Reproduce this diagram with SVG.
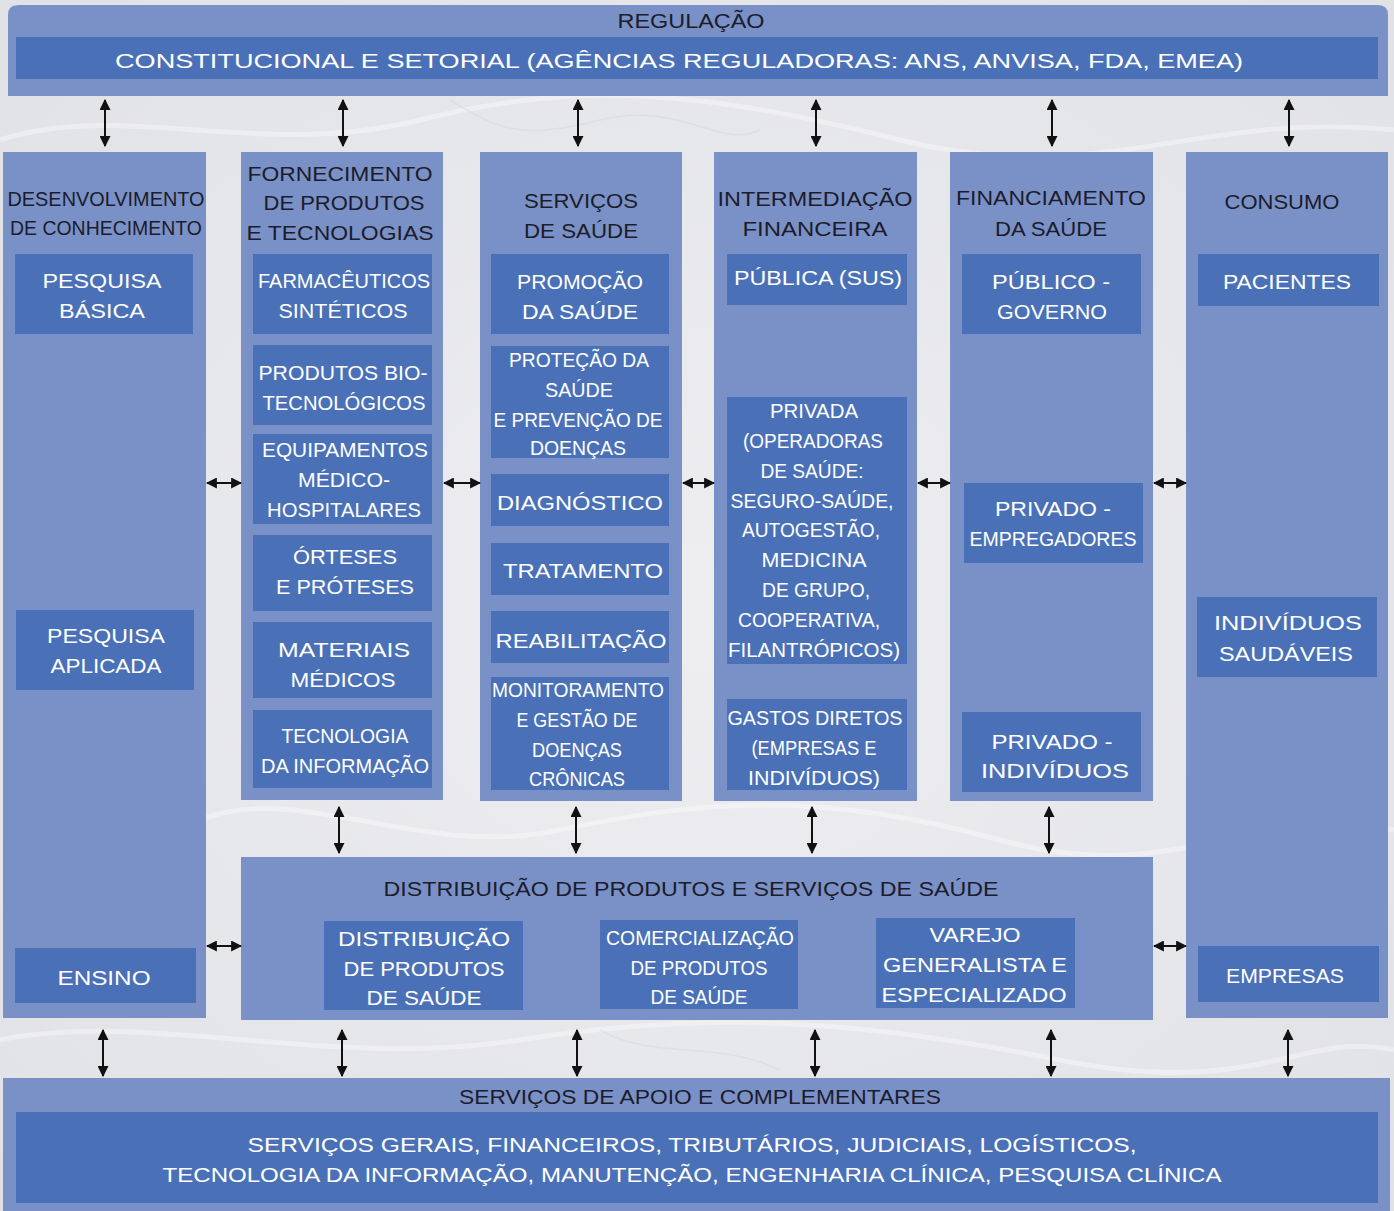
<svg xmlns="http://www.w3.org/2000/svg" width="1394" height="1211" viewBox="0 0 1394 1211">
<defs>
<style>
.panel{fill:#7a91c8}
.box{fill:#4a71b7}
.tt{font-family:"Liberation Sans",Arial,sans-serif;font-size:21px;fill:#1c1c2a;text-anchor:middle}
.wt{font-family:"Liberation Sans",Arial,sans-serif;font-size:21px;fill:#ffffff;text-anchor:middle}
.conn{stroke:#111;stroke-width:2;fill:none;marker-start:url(#ah);marker-end:url(#ah)}
.marble{fill:none;stroke:#ffffff;stroke-opacity:0.35;stroke-width:5}
.marble2{fill:none;stroke:#c9cad0;stroke-opacity:0.3;stroke-width:1.5}
</style>
<radialGradient id="bg" cx="50%" cy="50%" r="75%">
<stop offset="0" stop-color="#eeeef1"/>
<stop offset="1" stop-color="#e0e1e5"/>
</radialGradient>
<marker id="ah" viewBox="0 0 10 10" refX="9" refY="5" markerWidth="11" markerHeight="11" markerUnits="userSpaceOnUse" orient="auto-start-reverse">
<path d="M0,0 L10,5 L0,10 z" fill="#111"/>
</marker>
</defs>

<g id="background">
<rect x="0" y="0" width="1394" height="1211" fill="url(#bg)"/>
<path class="marble" d="M0,140 C120,100 260,160 420,120 S700,90 900,140 S1200,110 1394,130"/>
<path class="marble" d="M200,820 C300,780 420,860 560,830 S820,790 1000,840 S1250,800 1394,830"/>
<path class="marble" d="M0,1040 C150,1010 330,1070 520,1040 S860,1020 1060,1060 S1300,1030 1394,1050"/>
<path class="marble2" d="M450,100 C500,130 520,140 600,120 S720,150 760,130"/>
<path class="marble2" d="M600,1030 C650,1060 720,1040 780,1070"/>
</g>

<g id="regulacao">
<path class="panel" d="M18,5 H1378 Q1388,5 1388,15 V96 H8 V15 Q8,5 18,5 Z"/>
<text class="tt" x="691" y="28" textLength="147" lengthAdjust="spacingAndGlyphs">REGULAÇÃO</text>
<g id="constitucional">
<rect class="box" x="16" y="37" width="1362" height="42"/>
<text class="wt" x="679" y="68" textLength="1128" lengthAdjust="spacingAndGlyphs">CONSTITUCIONAL E SETORIAL (AGÊNCIAS REGULADORAS: ANS, ANVISA, FDA, EMEA)</text>
</g>
</g>

<g id="desenvolvimento">
<rect class="panel" x="3" y="152" width="203" height="866"/>
<text class="tt" x="106" y="206" textLength="197" lengthAdjust="spacingAndGlyphs">DESENVOLVIMENTO</text>
<text class="tt" x="106" y="235" textLength="192" lengthAdjust="spacingAndGlyphs">DE CONHECIMENTO</text>
<g id="pesquisa-basica">
<rect class="box" x="15" y="254" width="178" height="80"/>
<text class="wt" x="102" y="288" textLength="119" lengthAdjust="spacingAndGlyphs">PESQUISA</text>
<text class="wt" x="102" y="318" textLength="86" lengthAdjust="spacingAndGlyphs">BÁSICA</text>
</g>
<g id="pesquisa-aplicada">
<rect class="box" x="16" y="610" width="178" height="80"/>
<text class="wt" x="106" y="643" textLength="118" lengthAdjust="spacingAndGlyphs">PESQUISA</text>
<text class="wt" x="106" y="673" textLength="111" lengthAdjust="spacingAndGlyphs">APLICADA</text>
</g>
<g id="ensino">
<rect class="box" x="15" y="948" width="181" height="55"/>
<text class="wt" x="104" y="985" textLength="93" lengthAdjust="spacingAndGlyphs">ENSINO</text>
</g>
</g>

<g id="fornecimento">
<rect class="panel" x="241" y="152" width="202" height="648"/>
<text class="tt" x="340" y="181" textLength="185" lengthAdjust="spacingAndGlyphs">FORNECIMENTO</text>
<text class="tt" x="344" y="210" textLength="161" lengthAdjust="spacingAndGlyphs">DE PRODUTOS</text>
<text class="tt" x="340" y="240" textLength="187" lengthAdjust="spacingAndGlyphs">E TECNOLOGIAS</text>
<g id="farmaceuticos">
<rect class="box" x="253" y="254" width="179" height="80"/>
<text class="wt" x="344" y="288" textLength="172" lengthAdjust="spacingAndGlyphs">FARMACÊUTICOS</text>
<text class="wt" x="343" y="318" textLength="129" lengthAdjust="spacingAndGlyphs">SINTÉTICOS</text>
</g>
<g id="biotecnologicos">
<rect class="box" x="253" y="345" width="179" height="80"/>
<text class="wt" x="343" y="380" textLength="169" lengthAdjust="spacingAndGlyphs">PRODUTOS BIO-</text>
<text class="wt" x="344" y="410" textLength="163" lengthAdjust="spacingAndGlyphs">TECNOLÓGICOS</text>
</g>
<g id="equipamentos">
<rect class="box" x="253" y="434" width="179" height="90"/>
<text class="wt" x="345" y="457" textLength="166" lengthAdjust="spacingAndGlyphs">EQUIPAMENTOS</text>
<text class="wt" x="344" y="487" textLength="92" lengthAdjust="spacingAndGlyphs">MÉDICO-</text>
<text class="wt" x="344" y="517" textLength="154" lengthAdjust="spacingAndGlyphs">HOSPITALARES</text>
</g>
<g id="orteses">
<rect class="box" x="253" y="535" width="179" height="76"/>
<text class="wt" x="345" y="564" textLength="104" lengthAdjust="spacingAndGlyphs">ÓRTESES</text>
<text class="wt" x="345" y="594" textLength="138" lengthAdjust="spacingAndGlyphs">E PRÓTESES</text>
</g>
<g id="materiais">
<rect class="box" x="253" y="622" width="179" height="76"/>
<text class="wt" x="344" y="657" textLength="132" lengthAdjust="spacingAndGlyphs">MATERIAIS</text>
<text class="wt" x="343" y="687" textLength="105" lengthAdjust="spacingAndGlyphs">MÉDICOS</text>
</g>
<g id="ti-fornecimento">
<rect class="box" x="253" y="710" width="179" height="78"/>
<text class="wt" x="345" y="743" textLength="127" lengthAdjust="spacingAndGlyphs">TECNOLOGIA</text>
<text class="wt" x="345" y="773" textLength="168" lengthAdjust="spacingAndGlyphs">DA INFORMAÇÃO</text>
</g>
</g>

<g id="servicos">
<rect class="panel" x="480" y="152" width="202" height="649"/>
<text class="tt" x="581" y="208" textLength="114" lengthAdjust="spacingAndGlyphs">SERVIÇOS</text>
<text class="tt" x="581" y="238" textLength="114" lengthAdjust="spacingAndGlyphs">DE SAÚDE</text>
<g id="promocao">
<rect class="box" x="491" y="254" width="178" height="80"/>
<text class="wt" x="580" y="289" textLength="126" lengthAdjust="spacingAndGlyphs">PROMOÇÃO</text>
<text class="wt" x="580" y="319" textLength="116" lengthAdjust="spacingAndGlyphs">DA SAÚDE</text>
</g>
<g id="protecao">
<rect class="box" x="491" y="346" width="178" height="112"/>
<text class="wt" x="579" y="367" textLength="140" lengthAdjust="spacingAndGlyphs">PROTEÇÃO DA</text>
<text class="wt" x="579" y="397" textLength="68" lengthAdjust="spacingAndGlyphs">SAÚDE</text>
<text class="wt" x="578" y="427" textLength="169" lengthAdjust="spacingAndGlyphs">E PREVENÇÃO DE</text>
<text class="wt" x="578" y="455" textLength="96" lengthAdjust="spacingAndGlyphs">DOENÇAS</text>
</g>
<g id="diagnostico">
<rect class="box" x="491" y="474" width="178" height="52"/>
<text class="wt" x="580" y="510" textLength="166" lengthAdjust="spacingAndGlyphs">DIAGNÓSTICO</text>
</g>
<g id="tratamento">
<rect class="box" x="491" y="543" width="178" height="52"/>
<text class="wt" x="583" y="578" textLength="160" lengthAdjust="spacingAndGlyphs">TRATAMENTO</text>
</g>
<g id="reabilitacao">
<rect class="box" x="491" y="611" width="178" height="52"/>
<text class="wt" x="581" y="648" textLength="171" lengthAdjust="spacingAndGlyphs">REABILITAÇÃO</text>
</g>
<g id="monitoramento">
<rect class="box" x="491" y="677" width="178" height="113"/>
<text class="wt" x="578" y="697" textLength="172" lengthAdjust="spacingAndGlyphs">MONITORAMENTO</text>
<text class="wt" x="577" y="727" textLength="121" lengthAdjust="spacingAndGlyphs">E GESTÃO DE</text>
<text class="wt" x="577" y="757" textLength="90" lengthAdjust="spacingAndGlyphs">DOENÇAS</text>
<text class="wt" x="577" y="786" textLength="96" lengthAdjust="spacingAndGlyphs">CRÔNICAS</text>
</g>
</g>

<g id="intermediacao">
<rect class="panel" x="714" y="152" width="203" height="649"/>
<text class="tt" x="815" y="206" textLength="195" lengthAdjust="spacingAndGlyphs">INTERMEDIAÇÃO</text>
<text class="tt" x="815" y="236" textLength="145" lengthAdjust="spacingAndGlyphs">FINANCEIRA</text>
<g id="publica-sus">
<rect class="box" x="727" y="254" width="180" height="51"/>
<text class="wt" x="818" y="285" textLength="168" lengthAdjust="spacingAndGlyphs">PÚBLICA (SUS)</text>
</g>
<g id="privada">
<rect class="box" x="727" y="397" width="180" height="267"/>
<text class="wt" x="814" y="418" textLength="88" lengthAdjust="spacingAndGlyphs">PRIVADA</text>
<text class="wt" x="813" y="448" textLength="140" lengthAdjust="spacingAndGlyphs">(OPERADORAS</text>
<text class="wt" x="812" y="478" textLength="103" lengthAdjust="spacingAndGlyphs">DE SAÚDE:</text>
<text class="wt" x="812" y="508" textLength="163" lengthAdjust="spacingAndGlyphs">SEGURO-SAÚDE,</text>
<text class="wt" x="811" y="537" textLength="138" lengthAdjust="spacingAndGlyphs">AUTOGESTÃO,</text>
<text class="wt" x="814" y="567" textLength="105" lengthAdjust="spacingAndGlyphs">MEDICINA</text>
<text class="wt" x="816" y="597" textLength="108" lengthAdjust="spacingAndGlyphs">DE GRUPO,</text>
<text class="wt" x="809" y="627" textLength="142" lengthAdjust="spacingAndGlyphs">COOPERATIVA,</text>
<text class="wt" x="814" y="657" textLength="172" lengthAdjust="spacingAndGlyphs">FILANTRÓPICOS)</text>
</g>
<g id="gastos-diretos">
<rect class="box" x="727" y="699" width="180" height="91"/>
<text class="wt" x="815" y="725" textLength="175" lengthAdjust="spacingAndGlyphs">GASTOS DIRETOS</text>
<text class="wt" x="814" y="755" textLength="125" lengthAdjust="spacingAndGlyphs">(EMPRESAS E</text>
<text class="wt" x="814" y="785" textLength="132" lengthAdjust="spacingAndGlyphs">INDIVÍDUOS)</text>
</g>
</g>

<g id="financiamento">
<rect class="panel" x="950" y="152" width="203" height="649"/>
<text class="tt" x="1051" y="205" textLength="190" lengthAdjust="spacingAndGlyphs">FINANCIAMENTO</text>
<text class="tt" x="1051" y="236" textLength="112" lengthAdjust="spacingAndGlyphs">DA SAÚDE</text>
<g id="publico-governo">
<rect class="box" x="962" y="254" width="179" height="80"/>
<text class="wt" x="1051" y="289" textLength="118" lengthAdjust="spacingAndGlyphs">PÚBLICO -</text>
<text class="wt" x="1052" y="319" textLength="110" lengthAdjust="spacingAndGlyphs">GOVERNO</text>
</g>
<g id="privado-empregadores">
<rect class="box" x="964" y="483" width="179" height="80"/>
<text class="wt" x="1053" y="516" textLength="116" lengthAdjust="spacingAndGlyphs">PRIVADO -</text>
<text class="wt" x="1053" y="546" textLength="167" lengthAdjust="spacingAndGlyphs">EMPREGADORES</text>
</g>
<g id="privado-individuos">
<rect class="box" x="962" y="712" width="179" height="80"/>
<text class="wt" x="1052" y="749" textLength="121" lengthAdjust="spacingAndGlyphs">PRIVADO -</text>
<text class="wt" x="1055" y="778" textLength="148" lengthAdjust="spacingAndGlyphs">INDIVÍDUOS</text>
</g>
</g>

<g id="consumo">
<rect class="panel" x="1186" y="152" width="202" height="866"/>
<text class="tt" x="1282" y="209" textLength="115" lengthAdjust="spacingAndGlyphs">CONSUMO</text>
<g id="pacientes">
<rect class="box" x="1198" y="254" width="181" height="52"/>
<text class="wt" x="1287" y="289" textLength="128" lengthAdjust="spacingAndGlyphs">PACIENTES</text>
</g>
<g id="individuos-saudaveis">
<rect class="box" x="1197" y="597" width="180" height="80"/>
<text class="wt" x="1288" y="630" textLength="148" lengthAdjust="spacingAndGlyphs">INDIVÍDUOS</text>
<text class="wt" x="1286" y="661" textLength="134" lengthAdjust="spacingAndGlyphs">SAUDÁVEIS</text>
</g>
<g id="empresas">
<rect class="box" x="1198" y="946" width="181" height="56"/>
<text class="wt" x="1285" y="983" textLength="118" lengthAdjust="spacingAndGlyphs">EMPRESAS</text>
</g>
</g>

<g id="distribuicao">
<rect class="panel" x="241" y="857" width="912" height="163"/>
<text class="tt" x="691" y="896" textLength="615" lengthAdjust="spacingAndGlyphs">DISTRIBUIÇÃO DE PRODUTOS E SERVIÇOS DE SAÚDE</text>
<g id="distribuicao-produtos">
<rect class="box" x="324" y="921" width="199" height="89"/>
<text class="wt" x="424" y="946" textLength="172" lengthAdjust="spacingAndGlyphs">DISTRIBUIÇÃO</text>
<text class="wt" x="424" y="976" textLength="161" lengthAdjust="spacingAndGlyphs">DE PRODUTOS</text>
<text class="wt" x="424" y="1005" textLength="115" lengthAdjust="spacingAndGlyphs">DE SAÚDE</text>
</g>
<g id="comercializacao">
<rect class="box" x="600" y="920" width="198" height="89"/>
<text class="wt" x="700" y="945" textLength="188" lengthAdjust="spacingAndGlyphs">COMERCIALIZAÇÃO</text>
<text class="wt" x="699" y="975" textLength="137" lengthAdjust="spacingAndGlyphs">DE PRODUTOS</text>
<text class="wt" x="699" y="1004" textLength="97" lengthAdjust="spacingAndGlyphs">DE SAÚDE</text>
</g>
<g id="varejo">
<rect class="box" x="876" y="918" width="199" height="90"/>
<text class="wt" x="975" y="942" textLength="91" lengthAdjust="spacingAndGlyphs">VAREJO</text>
<text class="wt" x="975" y="972" textLength="184" lengthAdjust="spacingAndGlyphs">GENERALISTA E</text>
<text class="wt" x="974" y="1002" textLength="185" lengthAdjust="spacingAndGlyphs">ESPECIALIZADO</text>
</g>
</g>

<g id="apoio">
<rect class="panel" x="3" y="1078" width="1387" height="133"/>
<text class="tt" x="700" y="1104" textLength="482" lengthAdjust="spacingAndGlyphs">SERVIÇOS DE APOIO E COMPLEMENTARES</text>
<g id="servicos-gerais">
<rect class="box" x="16" y="1112" width="1362" height="91"/>
<text class="wt" x="692" y="1152" textLength="889" lengthAdjust="spacingAndGlyphs">SERVIÇOS GERAIS, FINANCEIROS, TRIBUTÁRIOS, JUDICIAIS, LOGÍSTICOS,</text>
<text class="wt" x="692" y="1182" textLength="1059" lengthAdjust="spacingAndGlyphs">TECNOLOGIA DA INFORMAÇÃO, MANUTENÇÃO, ENGENHARIA CLÍNICA, PESQUISA CLÍNICA</text>
</g>
</g>

<g id="connectors">
<line class="conn" x1="105" y1="100" x2="105" y2="146"/>
<line class="conn" x1="343" y1="100" x2="343" y2="146"/>
<line class="conn" x1="578" y1="100" x2="578" y2="146"/>
<line class="conn" x1="816" y1="100" x2="816" y2="146"/>
<line class="conn" x1="1052" y1="100" x2="1052" y2="146"/>
<line class="conn" x1="1289" y1="100" x2="1289" y2="146"/>
<line class="conn" x1="207" y1="483" x2="241" y2="483"/>
<line class="conn" x1="444" y1="483" x2="480" y2="483"/>
<line class="conn" x1="683" y1="483" x2="714" y2="483"/>
<line class="conn" x1="918" y1="483" x2="950" y2="483"/>
<line class="conn" x1="1154" y1="483" x2="1186" y2="483"/>
<line class="conn" x1="339" y1="807" x2="339" y2="853"/>
<line class="conn" x1="576" y1="807" x2="576" y2="853"/>
<line class="conn" x1="812" y1="807" x2="812" y2="853"/>
<line class="conn" x1="1049" y1="807" x2="1049" y2="853"/>
<line class="conn" x1="207" y1="946" x2="241" y2="946"/>
<line class="conn" x1="1154" y1="946" x2="1186" y2="946"/>
<line class="conn" x1="103" y1="1030" x2="103" y2="1076"/>
<line class="conn" x1="342" y1="1030" x2="342" y2="1076"/>
<line class="conn" x1="577" y1="1030" x2="577" y2="1076"/>
<line class="conn" x1="815" y1="1030" x2="815" y2="1076"/>
<line class="conn" x1="1051" y1="1030" x2="1051" y2="1076"/>
<line class="conn" x1="1288" y1="1030" x2="1288" y2="1076"/>
</g>
</svg>
